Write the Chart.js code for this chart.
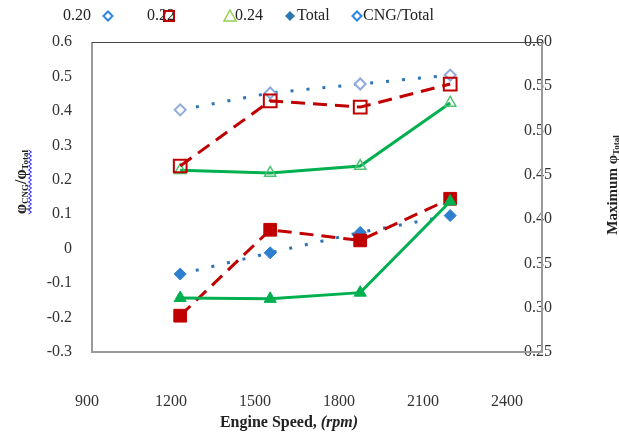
<!DOCTYPE html>
<html><head><meta charset="utf-8">
<script src="https://cdn.jsdelivr.net/npm/chart.js@4.4.0/dist/chart.umd.min.js"></script>
<style>html,body{margin:0;padding:0;background:#fff;overflow:hidden}#wrap{width:619px;height:439px;position:relative}</style>
</head><body><div id="wrap"><canvas id="c" width="619" height="439"></canvas></div>
<script>
// ---- data ----
const speeds = [1200, 1500, 1800, 2100];
const xTickLabels = [900, 1200, 1500, 1800, 2100, 2400];
// left axis: phi_CNG / phi_Total
const ratio020 = [0.403, 0.452, 0.478, 0.504];
const ratio022 = [0.240, 0.429, 0.411, 0.478];
const ratio024 = [0.228, 0.220, 0.240, 0.423];
// right axis: maximum phi_Total
const maxTotal020 = [0.338, 0.362, 0.385, 0.404];
const maxTotal022 = [0.291, 0.388, 0.376, 0.423];
const maxTotal024 = [0.311, 0.310, 0.317, 0.420];
const legendLabels = ['0.20', '0.22', '0.24', 'Total', 'CNG/Total'];

const BLUE = '#2E75B6', RED = '#C00000', GREEN = '#00B050';
const pts = arr => arr.map((v, i) => ({x: speeds[i], y: v}));

Chart.defaults.font.family = "'Liberation Serif', 'Times New Roman', serif";

const decor = {
  id: 'decor',
  beforeDatasetsDraw(chart) {
    const {ctx, chartArea: a} = chart;
    ctx.save();
    ctx.strokeStyle = '#9a9a9a'; ctx.lineWidth = 2;
    ctx.beginPath();
    ctx.moveTo(a.left, a.top); ctx.lineTo(a.left, a.bottom); ctx.lineTo(a.right, a.bottom); ctx.lineTo(a.right, a.top);
    ctx.stroke();
    ctx.strokeStyle = '#444'; ctx.lineWidth = 1;
    ctx.beginPath(); ctx.moveTo(a.left, a.top + 0.5); ctx.lineTo(a.right, a.top + 0.5); ctx.stroke();
    ctx.restore();
  },
  afterDraw(chart) {
    const ctx = chart.ctx;
    const F = "'Liberation Serif', 'Times New Roman', serif";
    ctx.save();
    ctx.fillStyle = '#222';
    ctx.textBaseline = 'middle';
    // legend
    ctx.font = '16px ' + F;
    ctx.textAlign = 'left';
    const ly = 16;
    ctx.fillText(legendLabels[0], 63, ly);
    ctx.fillText(legendLabels[1], 147, ly);
    ctx.fillText(legendLabels[2], 235, ly);
    ctx.fillText(legendLabels[3], 297, ly);
    ctx.fillText(legendLabels[4], 363, ly);
    // markers
    const diamond = (x, y, r, fill, stroke, lw) => {
      ctx.beginPath(); ctx.moveTo(x - r, y); ctx.lineTo(x, y - r); ctx.lineTo(x + r, y); ctx.lineTo(x, y + r); ctx.closePath();
      if (fill) { ctx.fillStyle = fill; ctx.fill(); }
      if (stroke) { ctx.strokeStyle = stroke; ctx.lineWidth = lw; ctx.stroke(); }
    };
    diamond(108, ly, 4.5, '#fff', '#2E86DE', 2);
    ctx.strokeStyle = RED; ctx.lineWidth = 2; ctx.strokeRect(164, ly - 5, 10, 10);
    ctx.beginPath(); ctx.moveTo(230, ly - 6); ctx.lineTo(236, ly + 5); ctx.lineTo(224, ly + 5); ctx.closePath();
    ctx.strokeStyle = '#92D050'; ctx.lineWidth = 1.5; ctx.stroke();
    diamond(290, ly, 5, '#2E75B6', null, 0);
    diamond(357, ly, 4.5, '#fff', '#2E86DE', 2);

    // x title
    ctx.fillStyle = '#222';
    ctx.textAlign = 'left';
    const t1 = 'Engine Speed, ', t2 = '(rpm)';
    ctx.font = 'bold 16px ' + F; const w1 = ctx.measureText(t1).width;
    ctx.font = 'bold italic 16px ' + F; const w2 = ctx.measureText(t2).width;
    let x0 = 289 - (w1 + w2) / 2;
    ctx.font = 'bold 16px ' + F; ctx.fillText(t1, x0, 423);
    ctx.font = 'bold italic 16px ' + F; ctx.fillText(t2, x0 + w1, 423);

    // rotated titles with subscripts
    const drawParts = (cx, cy, parts, squiggle) => {
      ctx.save();
      ctx.translate(cx, cy); ctx.rotate(-Math.PI / 2);
      let tot = 0;
      parts.forEach(p => { ctx.font = p[1] + F; p.w = ctx.measureText(p[0]).width; tot += p.w; });
      let x = -tot / 2;
      ctx.textAlign = 'left';
      parts.forEach(p => { ctx.font = p[1] + F; ctx.fillText(p[0], x, p[2]); x += p.w; });
      if (squiggle) {
        ctx.strokeStyle = '#2020ff'; ctx.lineWidth = 1;
        ctx.beginPath();
        let k = 0;
        for (let sx = -tot / 2; sx <= tot / 2; sx += 2) {
          const sy = squiggle + (k % 2 ? 1.5 : -1.5);
          if (k === 0) ctx.moveTo(sx, sy); else ctx.lineTo(sx, sy);
          k++;
        }
        ctx.stroke();
      }
      ctx.restore();
    };
    drawParts(22, 182, [['φ', 'bold 16px ', 0], ['CNG', 'bold 9px ', 4], ['/φ', 'bold 16px ', 0], ['Total', 'bold 9px ', 4]], 8);
    drawParts(613, 185, [['Maximum φ', 'bold 15px ', 0], ['Total', 'bold 9px ', 4]], 0);
    ctx.restore();
  }
};

const ds = (data, axis, color, dash, width, style, r, fill, pColor, pbw) => ({
  data: pts(data), yAxisID: axis, borderColor: color, borderDash: dash, borderWidth: width,
  pointStyle: style, pointRadius: r, pointHoverRadius: r, pointBackgroundColor: fill,
  pointBorderColor: pColor, pointBorderWidth: pbw, tension: 0, fill: false, clip: false
});

new Chart(document.getElementById('c'), {
  type: 'line',
  data: {
    datasets: [
      ds(maxTotal024, 'y2', GREEN, [], 3, 'triangle', 7, GREEN, GREEN, 1),
      ds(maxTotal022, 'y2', RED, [14, 8], 3, 'rect', 9, RED, RED, 1),
      ds(maxTotal020, 'y2', BLUE, [3, 13], 3, 'rectRot', 6, '#2E7FD0', '#2E7FD0', 1),
      ds(ratio022, 'y', RED, [14, 8], 3, 'rect', 9, 'rgba(255,255,255,0)', RED, 2),
      ds(ratio024, 'y', GREEN, [], 3, 'triangle', 6.5, 'rgba(255,255,255,0)', '#4CC26E', 1.5),
      ds(ratio020, 'y', BLUE, [3, 13], 3, 'rectRot', 5.5, '#fff', '#8FAADC', 2)
    ]
  },
  options: {
    responsive: false, animation: false, devicePixelRatio: 1,
    layout: {padding: {top: 42, left: 0, right: 0, bottom: 0}},
    plugins: {legend: {display: false}, tooltip: {enabled: false}},
    scales: {
      x: {type: 'linear', min: 906, max: 2406, position: 'bottom',
          grid: {display: false, drawTicks: false}, border: {display: false}, ticks: {display: false},
          afterFit: s => { s.height = 0; }},
      x2: {type: 'linear', min: 917.9, max: 2525, position: 'bottom',
           grid: {display: false, drawTicks: false}, border: {display: false},
           ticks: {autoSkip: false, maxRotation: 0, padding: 40, color: '#333', font: {size: 16}, callback: v => String(v)},
           afterBuildTicks: s => { s.ticks = xTickLabels.map(v => ({value: v})); },
           afterFit: s => { s.height = 87; }},
      y: {position: 'left', min: -0.3, max: 0.6,
          grid: {display: false, drawTicks: false}, border: {display: false},
          ticks: {stepSize: 0.1, padding: 20, color: '#333', font: {size: 16}, callback: v => String(+(+v).toFixed(1))},
          afterFit: s => { s.width = 92; }},
      y2: {position: 'right', min: 0.25, max: 0.6,
           grid: {display: false, drawTicks: false}, border: {display: false},
           ticks: {stepSize: 0.05, mirror: true, padding: 10, color: '#333', font: {size: 16}, callback: v => (+v).toFixed(2)},
           afterFit: s => { s.width = 77; }}
    }
  },
  plugins: [decor]
});
</script>
</body></html>
